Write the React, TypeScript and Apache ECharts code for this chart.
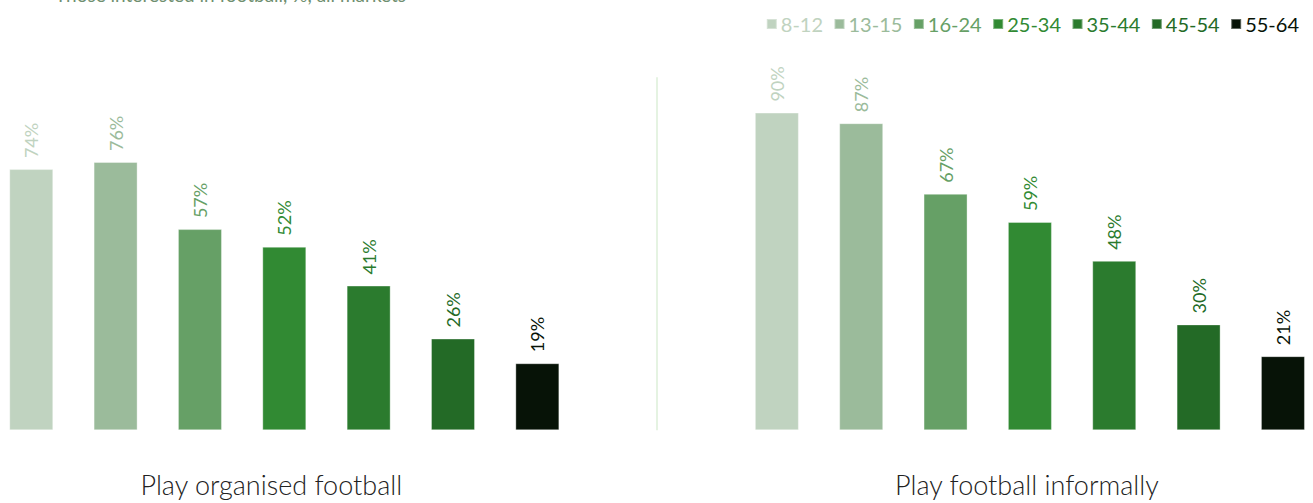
import React, { useEffect, useRef } from "react";
import * as echarts from "echarts";

const categories = ["Play organised football", "Play football informally"];
const ageGroups = ["8-12", "13-15", "16-24", "25-34", "35-44", "45-54", "55-64"];
const organised = [74, 76, 57, 52, 41, 26, 19];
const informal = [90, 87, 67, 59, 48, 30, 21];
const colors = ["#c0d3c0", "#9bbb9b", "#66a066", "#318a33", "#2b7b2e", "#236a26", "#071307"];
const subtitle = "Those interested in football, %, all markets";

export default function App() {
  const ref = useRef<HTMLDivElement>(null);
  useEffect(() => {
    if (!ref.current) return;
    const chart = echarts.init(ref.current, undefined, { renderer: "svg" });
    const font = "Lato, 'Noto Sans', sans-serif";
    chart.setOption({
      animation: false,
      backgroundColor: "#ffffff",
      textStyle: { fontFamily: font },
      legend: {
        right: 9,
        top: 9,
        icon: "rect",
        itemWidth: 10,
        itemHeight: 10,
        itemGap: 10.5,
        textStyle: { fontSize: 20, fontFamily: font, padding: [0, 0, 0, -1] },
        data: ageGroups.map((n, i) => ({ name: n, textStyle: { color: colors[i] } })),
      },
      graphic: [
        {
          type: "text",
          left: 55,
          top: -15,
          style: { text: subtitle, fontSize: 19, fontFamily: font, fill: "#6f8f6f" },
        },
      ],
      grid: {
        left: -88.5,
        width: 1491.2,
        top: 77.3,
        height: 353,
        containLabel: false,
        outerBoundsMode: "none",
      },
      xAxis: {
        type: "category",
        data: categories,
        axisLine: { show: false },
        axisTick: { show: false },
        splitLine: { show: true, lineStyle: { color: "#dcefd8", width: 1.5 } },
        axisLabel: {
          margin: 41,
          fontSize: 27,
          fontWeight: 300,
          color: "#222222",
          fontFamily: font,
          formatter: (v: string, i: number) => (i === 0 ? `{l|${v}}` : `{r|${v}}`),
          rich: {
            l: { fontSize: 27, fontWeight: 300, color: "#222222", fontFamily: font, padding: [0, 26, 0, 0] },
            r: { fontSize: 27, fontWeight: 300, color: "#222222", fontFamily: font, padding: [0, 6, 0, 0] },
          },
        },
      },
      yAxis: { type: "value", min: 0, max: 100, show: false, splitLine: { show: false } },
      series: ageGroups.map((name, i) => ({
        name,
        type: "bar",
        barWidth: 44,
        barGap: "91.7%",
        data: [organised[i], informal[i]],
        itemStyle: { color: colors[i], borderColor: "rgba(255,255,255,0.35)", borderWidth: 1 },
        label: {
          show: true,
          position: "top",
          rotate: 90,
          align: "left",
          verticalAlign: "middle",
          distance: 11,
          fontSize: 18,
          fontFamily: font,
          color: colors[i],
          formatter: "{c}%",
        },
      })),
    });
    return () => chart.dispose();
  }, []);
  return (
    <div
      ref={ref}
      style={{ position: "fixed", left: 0, top: 0, width: 1313, height: 503 }}
    />
  );
}
